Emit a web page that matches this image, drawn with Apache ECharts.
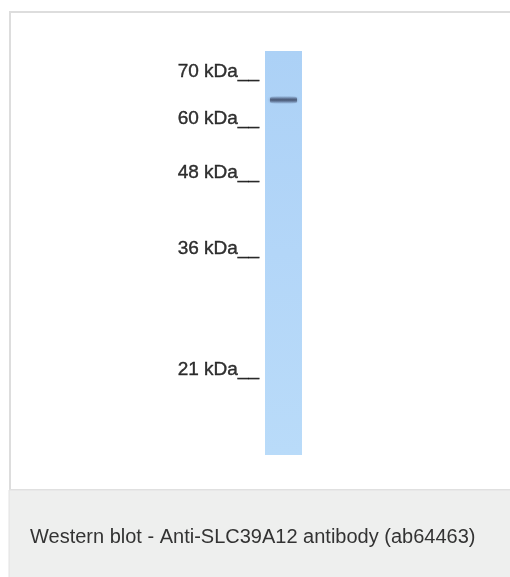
<!DOCTYPE html>
<html>
<head>
<meta charset="utf-8">
<script src="https://cdn.jsdelivr.net/npm/echarts@6/dist/echarts.min.js"></script>
<style>
  html, body { margin: 0; padding: 0; background: #ffffff; }
  #chart { width: 510px; height: 577px; }
</style>
</head>
<body>
<div id="chart"></div>
<script>
// ---- data ----
const lanes = ['Lane 1'];
const laneExtent = [100];                       // relative migration (0 = well, 100 = end of lane)
const markerLabels = ['70 kDa', '60 kDa', '48 kDa', '36 kDa', '21 kDa'];
const markerMigration = [5.2, 16.8, 30.2, 49.0, 78.8];
const bandMigration = [12.1];
const captionText = 'Western blot - Anti-SLC39A12 antibody (ab64463)';

const chart = echarts.init(document.getElementById('chart'), null, { renderer: 'canvas' });

const font = '"Liberation Sans", Arial, Helvetica, sans-serif';

const option = {
  animation: false,
  backgroundColor: '#ffffff',
  title: {
    text: captionText,
    left: 25,
    top: 522,
    textStyle: { fontFamily: font, fontSize: 20, fontWeight: 'normal', color: '#333333' }
  },
  graphic: [
    {
      type: 'rect', z: -10, silent: true,
      shape: { x: 10, y: 12, width: 520, height: 478 },
      style: { fill: '#ffffff', stroke: '#dddddd', lineWidth: 2 }
    },
    {
      type: 'rect', z: -9, silent: true,
      shape: { x: 9, y: 490, width: 510, height: 90 },
      style: { fill: '#eeefee', stroke: '#e2e2e2', lineWidth: 1 }
    }
  ],
  grid: { left: 265, width: 37, top: 51, height: 404, containLabel: false },
  xAxis: { type: 'category', data: lanes, show: false },
  yAxis: { type: 'value', inverse: true, min: 0, max: 100, show: false },
  series: [
    {
      name: 'lane',
      type: 'bar',
      barWidth: '100%',
      data: laneExtent,
      itemStyle: {
        color: new echarts.graphic.LinearGradient(0, 0, 0, 1, [
          { offset: 0, color: '#acd1f6' },
          { offset: 0.5, color: '#b3d6f8' },
          { offset: 1, color: '#b9dbf9' }
        ])
      }
    },
    {
      name: 'band',
      type: 'scatter',
      data: bandMigration.map(m => [0, m]),
      symbol: 'roundRect',
      symbolSize: [27, 8],
      itemStyle: {
        color: new echarts.graphic.LinearGradient(0, 0, 0, 1, [
          { offset: 0, color: 'rgba(80,100,140,0)' },
          { offset: 0.35, color: 'rgba(66,80,110,0.75)' },
          { offset: 0.5, color: 'rgba(56,66,92,0.95)' },
          { offset: 0.65, color: 'rgba(66,80,110,0.75)' },
          { offset: 1, color: 'rgba(80,100,140,0)' }
        ]),
        shadowBlur: 3,
        shadowColor: 'rgba(70,85,120,0.6)'
      },
      z: 5
    },
    {
      name: 'markers',
      type: 'scatter',
      data: markerMigration.map((m, i) => ({ name: markerLabels[i], value: [0, m] })),
      symbolSize: 0,
      label: {
        show: true,
        position: 'left',
        distance: 24.5,
        formatter: p => p.name + '__',
        fontFamily: font,
        fontSize: 19,
        color: '#000000',
        textBorderColor: '#000000',
        textBorderWidth: 0.4
      },
      z: 6
    }
  ]
};
chart.setOption(option);
</script>
</body>
</html>
